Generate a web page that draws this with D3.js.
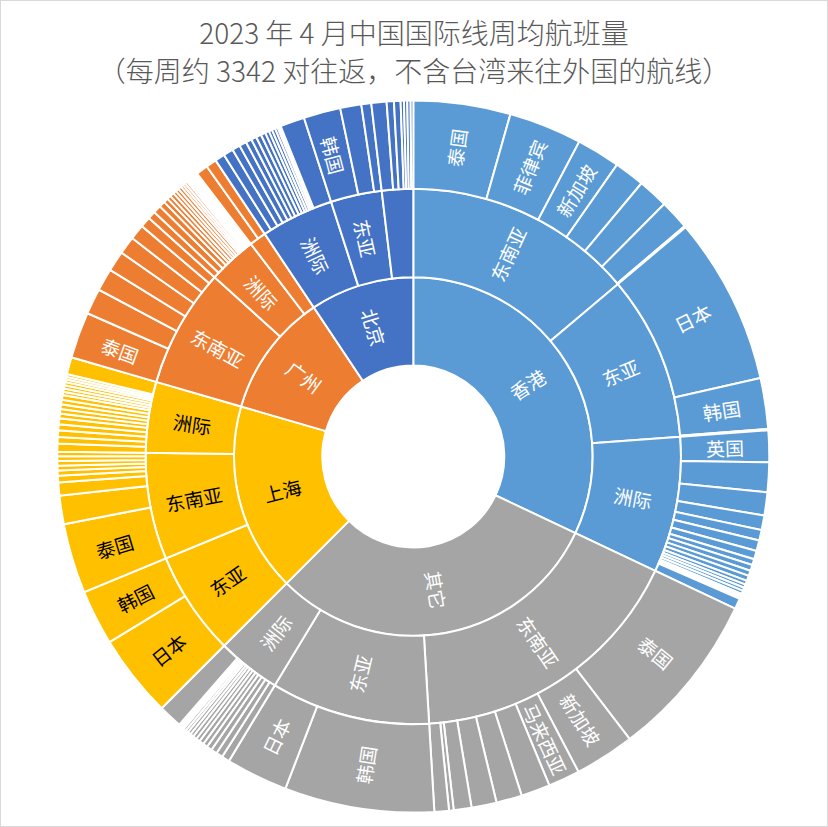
<!DOCTYPE html>
<html>
<head>
<meta charset="utf-8">
<script src="https://cdn.jsdelivr.net/npm/d3@7"></script>
<style>
  body { margin: 0; background: #fff; }
  svg { display: block; font-family: "Noto Sans CJK SC", "Noto Sans", sans-serif; }
</style>
</head>
<body>
<svg id="chart" width="828" height="827"></svg>
<script>
// cities (ring 1), clockwise from 12 o'clock
const cities = ["香港", "其它", "上海", "广州", "北京"];

// regions (ring 2) per city, in drawing order
const hkRegions = ["东南亚", "东亚", "洲际"];
const otRegions = ["东南亚", "东亚", "洲际"];
const shRegions = ["东亚", "东南亚", "洲际"];
const gzRegions = ["东南亚", "洲际", "东亚"];
const bjRegions = ["洲际", "东亚", "东南亚"];

// weekly flights per destination (ring 3); names only where a label is shown
const hkSEA = [147, 111, 66, 46, 46, 45, 2];
const hkSEANames = ["泰国", "菲律宾", "新加坡"];
const hkEA = [254, 77, 2];
const hkEANames = ["日本", "韩国"];
const hkIntl = [48, 45, 35, 22, 16, 16, 13, 9, 9, 8, 8, 6, 5, 5, 5, 2, 2, 2, 1, 1, 16];
const hkIntlNames = ["英国"];

const otSEA = [253, 91, 48, 44, 39, 38, 27, 7, 22];
const otSEANames = ["泰国", "新加坡", "马来西亚"];
const otEA = [227, 94];
const otEANames = ["韩国", "日本"];
const otIntl = [12, 10, 9, 8, 7, 7, 6, 6, 5, 5, 4, 4, 3, 3, 3, 36];
const otIntlNames = [];

const shEA = [126, 84];
const shEANames = ["日本", "韩国"];
const shSEA = [106, 43, 20, 10, 8, 7, 7, 7, 7];
const shSEANames = ["泰国"];
const shIntl = [12, 10, 10, 9, 9, 7, 7, 7, 7, 7, 5, 5, 5, 5, 4, 4, 4, 26];
const shIntlNames = [];

const gzSEA = [70, 39, 34, 31, 27, 23, 16];
const gzSEANames = ["泰国"];
const gzIntl = [12, 12, 9, 7, 6, 6, 5, 5, 5, 4, 4, 4, 3, 3, 3, 3, 3, 2, 2];
const gzIntlNames = [];
const gzEA = [18, 16];
const gzEANames = [];

const bjIntl = [15, 15, 12, 11, 9, 8, 8, 7, 6, 5, 5, 4, 3, 2, 37];
const bjIntlNames = [];
const bjEA = [56, 32, 15];
const bjEANames = ["韩国"];
const bjSEA = [23, 11, 10, 5, 5, 5, 4];
const bjSEANames = [];

const colors = ["#5B9BD5", "#A5A5A5", "#FFC000", "#ED7D31", "#4472C4"];
const textColors = ["#fff", "#fff", "#000", "#fff", "#fff"];

function leaves(values, names) {
  return values.map((v, i) => ({ name: names[i] || "", value: v }));
}
function region(name, values, names) {
  return { name: name, children: leaves(values, names) };
}

const cityData = [
  [region(hkRegions[0], hkSEA, hkSEANames), region(hkRegions[1], hkEA, hkEANames), region(hkRegions[2], hkIntl, hkIntlNames)],
  [region(otRegions[0], otSEA, otSEANames), region(otRegions[1], otEA, otEANames), region(otRegions[2], otIntl, otIntlNames)],
  [region(shRegions[0], shEA, shEANames), region(shRegions[1], shSEA, shSEANames), region(shRegions[2], shIntl, shIntlNames)],
  [region(gzRegions[0], gzSEA, gzSEANames), region(gzRegions[1], gzIntl, gzIntlNames), region(gzRegions[2], gzEA, gzEANames)],
  [region(bjRegions[0], bjIntl, bjIntlNames), region(bjRegions[1], bjEA, bjEANames), region(bjRegions[2], bjSEA, bjSEANames)]
];

const tree = {
  name: "root",
  children: cities.map((c, i) => ({ name: c, idx: i, children: cityData[i] }))
};

const svg = d3.select("#chart");
svg.append("rect").attr("x", 0.5).attr("y", 0.5).attr("width", 827).attr("height", 826)
  .attr("fill", "#fff").attr("stroke", "#d9d9d9");

// title
svg.append("text").attr("x", 414).attr("y", 44).attr("text-anchor", "middle")
  .attr("font-size", 28).attr("font-weight", 300).attr("fill", "#595959")
  .text("2023 年 4 月中国国际线周均航班量");
svg.append("text").attr("x", 414).attr("y", 82).attr("text-anchor", "middle")
  .attr("font-size", 28).attr("font-weight", 300).attr("fill", "#595959")
  .text("（每周约 3342 对往返，不含台湾来往外国的航线）");

const cx = 413.3, cy = 456.5;
const rScale = d3.scaleLinear().domain([0, 3]).range([91, 356]);

const root = d3.hierarchy(tree).sum(d => d.children ? 0 : d.value);
d3.partition().size([2 * Math.PI, 1])(root);

const arc = d3.arc()
  .startAngle(d => d.x0)
  .endAngle(d => d.x1)
  .innerRadius(d => rScale(d.depth - 1))
  .outerRadius(d => rScale(d.depth));

const cityIdx = d => d.ancestors().find(a => a.depth === 1).data.idx;

const g = svg.append("g").attr("transform", `translate(${cx},${cy})`);
const nodes = root.descendants().filter(d => d.depth > 0);

g.selectAll("path")
  .data(nodes)
  .enter()
  .append("path")
  .attr("d", arc)
  .attr("fill", d => colors[cityIdx(d)])
  .attr("stroke", "#fff")
  .attr("stroke-width", 2);

// labels, radial like Excel; hidden when the slice is too narrow
const fontSize = 19;
const labeled = nodes.filter(d => {
  if (!d.data.name) return false;
  const rMid = (rScale(d.depth - 1) + rScale(d.depth)) / 2;
  return (d.x1 - d.x0) * rMid >= 27;
});

g.selectAll("text.lbl")
  .data(labeled)
  .enter()
  .append("text")
  .attr("class", "lbl")
  .attr("text-anchor", "middle")
  .attr("dominant-baseline", "central")
  .attr("font-size", fontSize)
  .attr("fill", d => textColors[cityIdx(d)])
  .attr("transform", d => {
    const a = (d.x0 + d.x1) / 2;
    const r = (rScale(d.depth - 1) + rScale(d.depth)) / 2;
    const deg = a * 180 / Math.PI;
    const rot = deg < 180 ? deg - 90 : deg - 270;
    return `translate(${r * Math.sin(a)},${-r * Math.cos(a)}) rotate(${rot})`;
  })
  .text(d => d.data.name);
</script>
</body>
</html>
